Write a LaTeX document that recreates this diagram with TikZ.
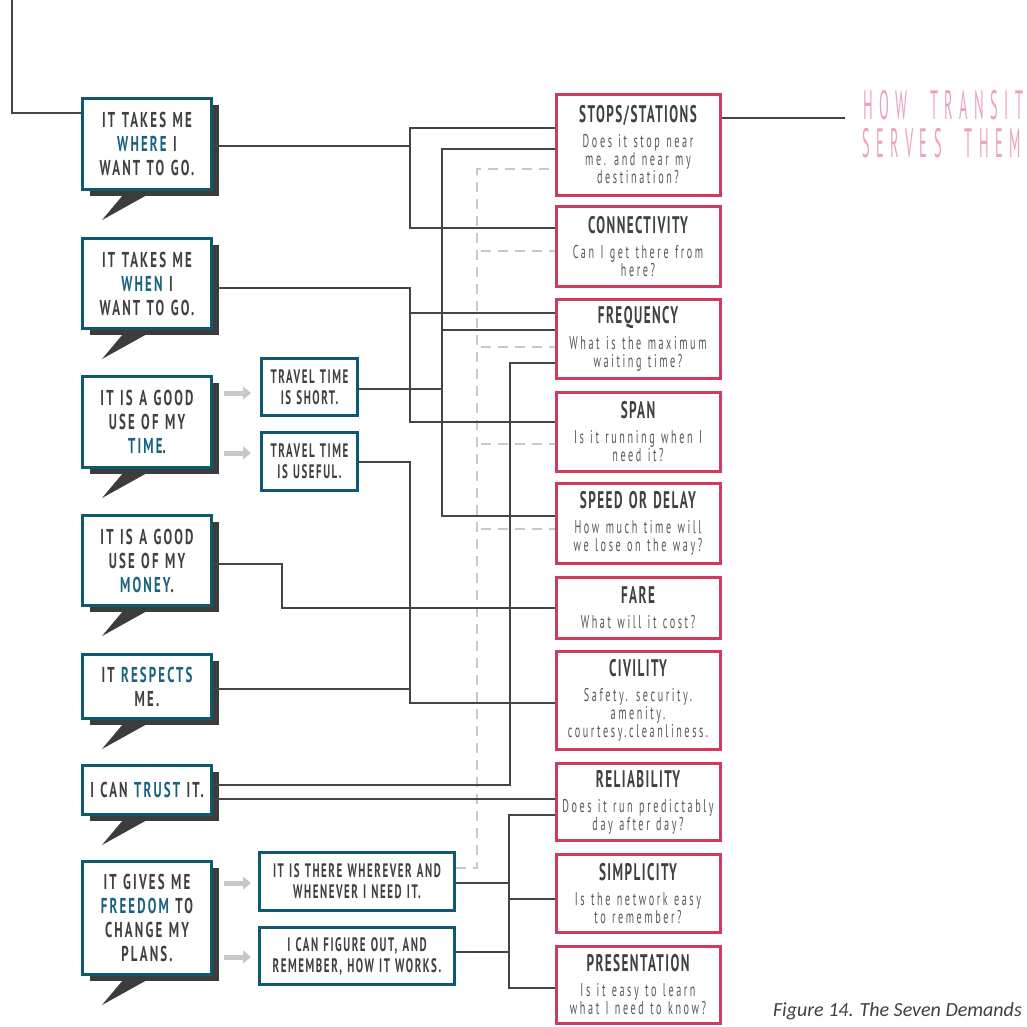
\documentclass[tikz,border=0pt]{standalone}
\usepackage{fontspec}
\usetikzlibrary{arrows.meta,calc,shadows}

% condensed display faces
\newfontfamily\dispfont[FakeStretch=0.60,LetterSpace=10,WordSpace=1.2]{PT Sans Bold}
\newfontfamily\smallfont[FakeStretch=0.56,LetterSpace=8,WordSpace=1.2]{PT Sans Bold}
\newfontfamily\titlefont[FakeStretch=0.55,LetterSpace=6,WordSpace=1.3]{PT Sans Bold}
\newfontfamily\quesfont[FakeStretch=0.55,LetterSpace=14,WordSpace=1.2]{PT Sans}
\newfontfamily\headfont[FakeStretch=0.35,LetterSpace=16,WordSpace=2.2]{PT Sans}
\newfontfamily\captfont{Carlito}

\definecolor{bordteal}{HTML}{0E5870}
\definecolor{wordteal}{HTML}{1A6280}
\definecolor{crim}{HTML}{CF3A5E}
\definecolor{wirecol}{HTML}{454545}
\definecolor{softgray}{HTML}{C8C8C8}
\definecolor{shadowcol}{HTML}{3C3C3C}
\definecolor{inkdark}{HTML}{404040}
\definecolor{quesgray}{HTML}{585858}
\definecolor{headpink}{HTML}{E9A2BA}
\definecolor{captgray}{HTML}{404040}

\newcommand\tw[1]{\textcolor{wordteal}{#1}}
\newcommand\boxtitle[1]{{\titlefont\fontsize{24}{24}\selectfont\color{inkdark}#1}}

\tikzset{
  wire/.style={draw=wirecol, line width=2.5pt},
  dashwire/.style={draw=softgray, line width=2.5pt, dash pattern=on 10pt off 7pt},
  bubble/.style={draw=bordteal, line width=3pt, fill=white, minimum width=129pt,
    align=center, inner sep=0pt, text=inkdark,
    font=\dispfont\fontsize{21.5}{24}\selectfont,
    general shadow={fill=shadowcol, shadow xshift=7pt, shadow yshift=-6pt}},
  smallbox/.style={draw=bordteal, line width=3pt, fill=white, align=center,
    inner sep=0pt, text=inkdark, font=\smallfont\fontsize{19.5}{21}\selectfont},
  demand/.style={draw=crim, line width=3pt, fill=white, minimum width=164pt,
    align=center, inner sep=0pt, text=quesgray,
    font=\quesfont\fontsize{18.5}{18}\selectfont},
  flowarrow/.style={draw=softgray, line width=5pt, -{Triangle[length=8pt,width=13pt]}},
}

\begin{document}
\begin{tikzpicture}[x=1pt,y=-1pt]
\useasboundingbox (0,0) rectangle (1027,1026);

% speech bubbles
\node[bubble, minimum height=91pt] (where) at (147,144) {IT TAKES ME\\\tw{WHERE} I\\WANT TO GO.};
\node[bubble, minimum height=90pt] (when) at (147,283.5) {IT TAKES ME\\\tw{WHEN} I\\WANT TO GO.};
\node[bubble, minimum height=91pt] (time) at (147,422) {IT IS A GOOD\\USE OF MY\\\tw{TIME}.};
\node[bubble, minimum height=90pt] (money) at (147,560.5) {IT IS A GOOD\\USE OF MY\\\tw{MONEY}.};
\node[bubble, minimum height=64pt] (respects) at (147,686.5) {IT \tw{RESPECTS}\\ME.};
\node[bubble, minimum height=49pt] (trust) at (147,790) {I CAN \tw{TRUST} IT.};
\node[bubble, minimum height=113pt] (freedom) at (147,918) {IT GIVES ME\\\tw{FREEDOM} TO\\CHANGE MY\\PLANS.};

% bubble tails
\foreach \b in {where,when,time,money,respects,trust,freedom}
  \fill[shadowcol] ($(\b.south west)+(42,4)$) -- ($(\b.south west)+(66,4)$)
                   -- ($(\b.south west)+(21,29)$) -- cycle;

% intermediate statements
\node[smallbox, minimum width=96pt, minimum height=57pt] (short) at (309.5,387) {TRAVEL TIME\\IS SHORT.};
\node[smallbox, minimum width=96pt, minimum height=58pt] (useful) at (309.5,461.5) {TRAVEL TIME\\IS USEFUL.};
\node[smallbox, minimum width=195pt, minimum height=58pt] (there) at (357,881.5) {IT IS THERE WHEREVER AND\\WHENEVER I NEED IT.};
\node[smallbox, minimum width=195pt, minimum height=57pt] (figure) at (357,956) {I CAN FIGURE OUT, AND\\REMEMBER, HOW IT WORKS.};

% the demands
\node[demand, minimum height=101pt] (stops) at (638,145) {\boxtitle{STOPS/STATIONS}\\[7pt]Does it stop near\\me. and near my\\destination?};
\node[demand, minimum height=80pt] (conn) at (638,246.5) {\boxtitle{CONNECTIVITY}\\[7pt]Can I get there from\\here?};
\node[demand, minimum height=79pt] (freq) at (638,339) {\boxtitle{FREQUENCY}\\[7pt]What is the maximum\\waiting time?};
\node[demand, minimum height=79pt] (span) at (638,432) {\boxtitle{SPAN}\\[7pt]Is it running when I\\need it?};
\node[demand, minimum height=80pt] (speed) at (638,523.5) {\boxtitle{SPEED OR DELAY}\\[7pt]How much time will\\we lose on the way?};
\node[demand, minimum height=61pt] (fare) at (638,608) {\boxtitle{FARE}\\[7pt]What will it cost?};
\node[demand, minimum height=98pt] (civ) at (638,700.5) {\boxtitle{CIVILITY}\\[7pt]Safety. security.\\amenity.\\courtesy.cleanliness.};
\node[demand, minimum height=77pt] (rel) at (638,802) {\boxtitle{RELIABILITY}\\[7pt]Does it run predictably\\day after day?};
\node[demand, minimum height=78pt] (simp) at (638,893.5) {\boxtitle{SIMPLICITY}\\[7pt]Is the network easy\\to remember?};
\node[demand, minimum height=77pt] (pres) at (638,985) {\boxtitle{PRESENTATION}\\[7pt]Is it easy to learn\\what I need to know?};

% heading on the right
\node[anchor=base west, inner sep=0pt, font=\headfont\fontsize{41}{41}\selectfont, text=headpink] (hd1) at (863,119) {HOW TRANSIT};
\node[anchor=base west, inner sep=0pt, font=\headfont\fontsize{41}{41}\selectfont, text=headpink] (hd2) at (862,157) {SERVES THEM};
\coordinate (headend) at (845,118);

% caption
\node[anchor=base east, inner sep=0pt, font=\captfont\itshape\fontsize{20}{20}\selectfont, text=captgray] (caption) at (1022,1016) {Figure 14. The Seven Demands};

% gray flow arrows
\draw[flowarrow] ($(time.east |- 0,393)+(11,0)$) -- ($(short.west |- 0,393)+(-9,0)$);
\draw[flowarrow] ($(time.east |- 0,453)+(11,0)$) -- ($(useful.west |- 0,453)+(-9,0)$);
\draw[flowarrow] ($(freedom.east |- 0,883)+(11,0)$) -- ($(there.west |- 0,883)+(-7,0)$);
\draw[flowarrow] ($(freedom.east |- 0,957)+(11,0)$) -- ($(figure.west |- 0,957)+(-7,0)$);

% dashed links from availability
\draw[dashwire] (there.east |- 0,868) -| (477,169) -- (stops.west |- 0,169);
\foreach \n/\yy in {conn/251, freq/347, span/444, speed/529}
  \draw[dashwire] (481,\yy) -- (\n.west |- 0,\yy);

% solid links
\draw[wire] (12,0) |- (where.west |- 0,113);
\draw[wire] (stops.east |- 0,118) -- (headend);
\draw[wire] (where.east |- 0,146) -- (410,146);
\draw[wire] (stops.west |- 0,128) -| (410,228) -- (conn.west |- 0,228);
\draw[wire] (when.east |- 0,288) -| (410,422) -- (span.west |- 0,422);
\draw[wire] (410,313) -- (freq.west |- 0,313);
\draw[wire] (stops.west |- 0,149) -| (442,516) -- (speed.west |- 0,516);
\draw[wire] (short.east |- 0,389) -- (442,389);
\draw[wire] (442,330) -- (freq.west |- 0,330);
\draw[wire] (useful.east |- 0,462) -| (410,703) -- (civ.west |- 0,703);
\draw[wire] (respects.east |- 0,689) -- (410,689);
\draw[wire] (money.east |- 0,564) -| (282,608) -- (fare.west |- 0,608);
\draw[wire] (trust.east |- 0,785) -| (510,363) -- (freq.west |- 0,363);
\draw[wire] (trust.east |- 0,799) -- (rel.west |- 0,799);
\draw[wire] (rel.west |- 0,815) -| (509,988) -- (pres.west |- 0,988);
\draw[wire] (there.east |- 0,883) -- (509,883);
\draw[wire] (figure.east |- 0,952) -- (509,952);
\draw[wire] (509,899) -- (simp.west |- 0,899);
\end{tikzpicture}
\end{document}
